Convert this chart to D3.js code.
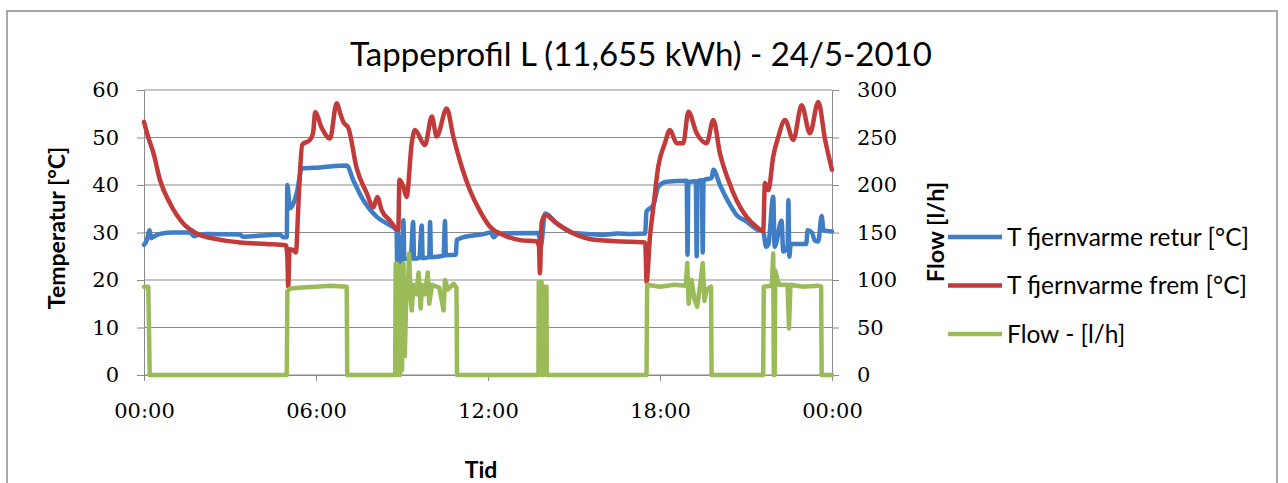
<!DOCTYPE html>
<html>
<head>
<meta charset="utf-8">
<script src="https://cdn.jsdelivr.net/npm/d3@7"></script>
<style>
  body { margin: 0; background: #fff; }
</style>
</head>
<body>
<svg width="1288" height="483"></svg>
<script>
// hours since midnight, 24/5-2010
var fremTime = [0, 0.15, 0.33, 0.56, 0.91, 1.37, 1.84, 2.54, 3.35, 4.28, 4.95, 5.0, 5.03, 5.08, 5.2, 5.3, 5.38, 5.44, 5.52, 5.79, 5.9, 5.97, 6.2, 6.49, 6.72, 6.85, 6.95, 7.13, 7.42, 7.77, 8.0, 8.14, 8.29, 8.58, 8.87, 8.91, 9.05, 9.16, 9.34, 9.45, 9.8, 10.04, 10.21, 10.56, 10.79, 11.08, 11.37, 11.72, 12.07, 12.53, 13.12, 13.7, 13.78, 13.81, 13.87, 13.99, 14.4, 14.98, 15.79, 16.72, 17.48, 17.5, 17.53, 17.65, 17.77, 17.94, 18.17, 18.35, 18.58, 18.81, 18.99, 19.28, 19.63, 19.86, 20.09, 20.38, 20.67, 21.02, 21.43, 21.6, 21.66, 21.78, 21.95, 22.13, 22.36, 22.65, 22.94, 23.23, 23.52, 23.76, 24];
var fremTemp = [53.3, 50, 46.7, 41, 36.1, 31.9, 29.8, 28.6, 27.9, 27.6, 27.3, 25, 18.6, 26.5, 26.3, 25.8, 35, 42.5, 48.5, 49.5, 51, 55.3, 52, 49.8, 57.2, 55, 53.3, 52, 43.5, 38.3, 35.3, 37.5, 34.7, 32.5, 30.5, 41.1, 39.6, 37.5, 48.8, 51.6, 48.4, 54.4, 50.2, 56.1, 50.2, 43.9, 38.9, 34.5, 31.2, 29.5, 28.4, 28.1, 27, 21.4, 31.9, 33.7, 31.9, 29.8, 28.4, 28.1, 27.9, 26, 19.6, 29.1, 35.4, 43.9, 48.8, 51.6, 48.8, 48.8, 55.4, 50.9, 48.8, 53.7, 46.7, 41.1, 36.8, 33.3, 30.9, 30.3, 40.4, 38.9, 46, 50.2, 53.7, 49.5, 56.8, 50.9, 57.5, 49.5, 43.2];

var returTime = [0, 0.1, 0.2, 0.25, 0.33, 0.56, 1.02, 1.6, 1.75, 1.84, 2.19, 3.35, 3.45, 4.74, 4.86, 4.98, 5.0, 5.09, 5.21, 5.35, 5.5, 6.14, 7.07, 7.3, 7.65, 8.12, 8.47, 8.81, 8.83, 8.86, 8.9, 8.95, 9.0, 9.05, 9.08, 9.3, 9.39, 9.42, 9.6, 9.69, 9.72, 9.95, 9.98, 10.01, 10.45, 10.5, 10.53, 10.88, 10.91, 11.2, 11.8, 12.1, 12.2, 12.35, 13.76, 13.84, 13.99, 14.4, 14.98, 15.5, 16.0, 16.5, 17.0, 17.48, 17.53, 17.77, 17.94, 18.23, 18.93, 18.96, 18.99, 19.25, 19.28, 19.31, 19.46, 19.49, 19.52, 19.8, 19.86, 20.09, 20.38, 20.67, 21.02, 21.43, 21.6, 21.7, 21.78, 21.95, 22.0, 22.24, 22.3, 22.45, 22.48, 22.51, 22.56, 23.1, 23.15, 23.3, 23.4, 23.52, 23.64, 23.7, 24];
var returTemp = [27.4, 28.4, 30.5, 28.8, 29.1, 29.7, 30, 30, 29.2, 29.4, 29.7, 29.6, 29.1, 29.6, 29, 29, 40, 35.1, 36.1, 38.9, 43.5, 43.7, 44.1, 41, 36.8, 33.3, 31.9, 30.5, 24, 30, 23.5, 28, 24, 32.6, 24.5, 24.4, 32.2, 24.5, 24.6, 31.5, 24.6, 24.8, 32.2, 24.8, 25.1, 32.4, 25.2, 25.3, 28.4, 29.1, 29.6, 30, 29, 29.8, 29.9, 27, 34, 31.9, 29.9, 29.7, 29.5, 29.8, 29.7, 29.8, 34.4, 35.8, 39.6, 40.7, 40.9, 25.3, 40.6, 40.8, 25, 40.8, 41, 25.8, 41, 41.5, 43.2, 40, 36.5, 33.7, 32.3, 30.5, 30.2, 27, 27.5, 37.5, 27, 32.5, 26, 27, 36.8, 24.9, 27.6, 27.6, 30.5, 30, 28.3, 28.1, 33.5, 30.5, 30.2];

var flowTime = [0, 0.15, 0.2, 4.98, 5.0, 5.1, 5.5, 6.0, 6.5, 7.07, 7.09, 8.76, 8.78, 8.8, 8.83, 8.86, 8.9, 8.93, 8.97, 9.0, 9.05, 9.1, 9.16, 9.2, 9.25, 9.3, 9.34, 9.4, 9.5, 9.58, 9.65, 9.7, 9.8, 9.9, 9.95, 10.05, 10.3, 10.45, 10.5, 10.6, 10.8, 10.9, 10.92, 13.76, 13.77, 13.87, 13.88, 13.92, 13.93, 14.04, 14.05, 17.53, 17.55, 18.0, 18.5, 18.9, 18.95, 19.0, 19.1, 19.2, 19.3, 19.4, 19.49, 19.55, 19.63, 19.78, 19.8, 21.6, 21.62, 21.9, 21.95, 21.97, 22.0, 22.02, 22.15, 22.3, 22.45, 22.5, 22.55, 23.0, 23.5, 23.62, 23.64, 24];
var flowValue = [93, 93, 0, 0, 88, 91, 92, 93, 94, 93, 0, 0, 117, 0, 117, 0, 115, 0, 110, 5, 118, 20, 100, 90, 128, 80, 68, 95, 85, 108, 70, 95, 85, 108, 75, 95, 92, 68, 100, 90, 96, 92, 0, 0, 98, 98, 0, 0, 93, 93, 0, 0, 95, 93, 95, 94, 118, 75, 100, 80, 72, 95, 118, 78, 90, 93, 0, 0, 93, 94, 128, 0, 0, 110, 95, 95, 95, 49, 95, 93, 94, 93, 0, 0];

var tempTicks = [0, 10, 20, 30, 40, 50, 60];
var flowTicks = [0, 50, 100, 150, 200, 250, 300];
var hourTicks = [0, 6, 12, 18, 24];
var hourLabels = ["00:00", "06:00", "12:00", "18:00", "00:00"];

var seriesNames = ["T fjernvarme retur [°C]", "T fjernvarme frem [°C]", "Flow - [l/h]"];
var seriesColors = ["#3f7dc5", "#c23a3a", "#9bbb59"];

var svg = d3.select("svg"),
    width = +svg.attr("width"),
    height = +svg.attr("height");

var sans = "Lato, 'Open Sans', sans-serif",
    serif = "'DejaVu Serif', serif",
    gridColor = "#8a8a8a";

// chart border (bottom edge is below the window)
svg.append("rect")
    .attr("x", 7).attr("y", 11)
    .attr("width", 1270).attr("height", 490)
    .attr("fill", "none")
    .attr("stroke", "#8c8c8c")
    .attr("stroke-width", 1.5);

var x = d3.scaleLinear().domain([0, 24]).range([144, 832]);
var yT = d3.scaleLinear().domain([0, 60]).range([375, 90]);
var yF = d3.scaleLinear().domain([0, 300]).range([375, 90]);

// gridlines
svg.append("g")
    .selectAll("line")
    .data(tempTicks)
    .enter().append("line")
    .attr("x1", x(0)).attr("x2", x(24))
    .attr("y1", function(d) { return yT(d); })
    .attr("y2", function(d) { return yT(d); })
    .attr("stroke", gridColor)
    .attr("stroke-width", 1);

function styleAxis(g) {
  g.select(".domain").attr("stroke", gridColor);
  g.selectAll(".tick line").attr("stroke", gridColor);
  g.selectAll(".tick text")
    .attr("fill", "#000")
    .attr("font-family", serif)
    .attr("font-size", 21);
}

svg.append("g")
    .attr("transform", "translate(" + x(0) + ",0)")
    .call(d3.axisLeft(yT).tickValues(tempTicks).tickSize(7).tickSizeOuter(0).tickPadding(18))
    .call(styleAxis);

svg.append("g")
    .attr("transform", "translate(" + x(24) + ",0)")
    .call(d3.axisRight(yF).tickValues(flowTicks).tickSize(7).tickSizeOuter(0).tickPadding(18))
    .call(styleAxis);

svg.append("g")
    .attr("transform", "translate(0," + yT(0) + ")")
    .call(d3.axisBottom(x).tickValues(hourTicks).tickSize(6).tickSizeOuter(0).tickPadding(22)
      .tickFormat(function(d, i) { return hourLabels[i]; }))
    .call(styleAxis);

// series
var lineT = d3.line()
    .curve(d3.curveMonotoneX)
    .x(function(d) { return x(d[0]); })
    .y(function(d) { return yT(d[1]); });
var lineF = d3.line()
    .x(function(d) { return x(d[0]); })
    .y(function(d) { return yF(d[1]); });

var retur = d3.zip(returTime, returTemp),
    frem = d3.zip(fremTime, fremTemp),
    flow = d3.zip(flowTime, flowValue);

var plot = svg.append("g").attr("fill", "none")
    .attr("stroke-width", 4.5)
    .attr("stroke-linejoin", "round")
    .attr("stroke-linecap", "round");

plot.append("path").datum(retur).attr("d", lineT).attr("stroke", seriesColors[0]);
plot.append("path").datum(frem).attr("d", lineT).attr("stroke", seriesColors[1]);
plot.append("path").datum(flow).attr("d", lineF).attr("stroke", seriesColors[2]);

// title
svg.append("text")
    .attr("x", 641).attr("y", 66)
    .attr("text-anchor", "middle")
    .attr("font-family", sans)
    .attr("font-size", 33)
    .text("Tappeprofil L (11,655 kWh) - 24/5-2010");

// axis titles
svg.append("text")
    .attr("transform", "translate(65,228) rotate(-90)")
    .attr("text-anchor", "middle")
    .attr("font-family", sans)
    .attr("font-weight", "bold")
    .attr("font-size", 23)
    .text("Temperatur [°C]");

svg.append("text")
    .attr("transform", "translate(944,232) rotate(-90)")
    .attr("text-anchor", "middle")
    .attr("font-family", sans)
    .attr("font-weight", "bold")
    .attr("font-size", 23.5)
    .text("Flow [l/h]");

svg.append("text")
    .attr("x", 481).attr("y", 478)
    .attr("text-anchor", "middle")
    .attr("font-family", sans)
    .attr("font-weight", "bold")
    .attr("font-size", 23)
    .text("Tid");

// legend
var legend = svg.append("g")
    .selectAll("g")
    .data(seriesNames)
    .enter().append("g")
    .attr("transform", function(d, i) { return "translate(948," + (237 + i * 48.5) + ")"; });

legend.append("line")
    .attr("x1", 0).attr("x2", 54)
    .attr("stroke", function(d, i) { return seriesColors[i]; })
    .attr("stroke-width", 4.5);

legend.append("text")
    .attr("x", 59).attr("dy", "0.35em")
    .attr("font-family", sans)
    .attr("font-size", 24.5)
    .text(function(d) { return d; });
</script>
</body>
</html>
